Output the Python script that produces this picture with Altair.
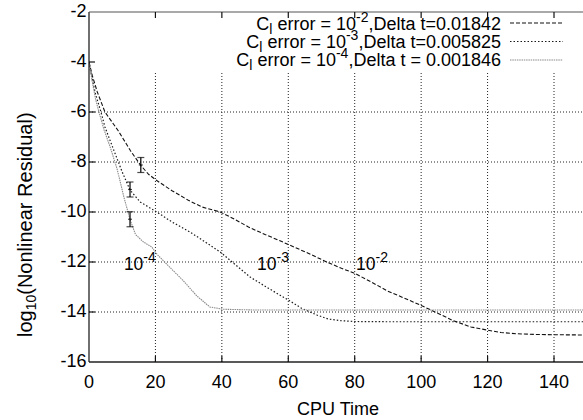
import altair as alt
import pandas as pd

# ---------------- data ----------------
s1_x = [0, 1, 2.5, 4.8, 8.8, 12.5, 15.6, 18, 20.4, 25, 29.9, 34, 39.5, 44, 48, 53, 57.5, 60, 66, 71.6, 76, 80.1,
        85, 89.7, 95, 100.2, 105, 109.7, 115, 119.8, 124, 128.8, 135, 140, 150]
s1_y = [-4.0, -4.55, -5.2, -6.0, -6.75, -7.55, -8.14, -8.5, -8.74, -9.15, -9.53, -9.8, -10.0, -10.3, -10.6, -10.9,
        -11.15, -11.3, -11.65, -12.0, -12.25, -12.46, -12.8, -13.15, -13.45, -13.75, -14.05, -14.35, -14.6,
        -14.72, -14.82, -14.87, -14.9, -14.91, -14.92]

s2_x = [0, 1, 2, 3.6, 4.8, 7.5, 10, 12.35, 15.4, 20.4, 25, 30.4, 35, 39.5, 44, 48.5, 54, 60, 64, 68.6, 72, 76, 80,
        90, 150]
s2_y = [-4.0, -4.7, -5.3, -6.0, -6.6, -7.54, -8.4, -9.12, -9.6, -10.0, -10.4, -10.8, -11.2, -11.6, -12.1, -12.6,
        -13.05, -13.52, -13.85, -14.12, -14.28, -14.35, -14.38, -14.39, -14.39]

s3_x = [0, 1, 2, 3, 4.5, 6.5, 8.5, 10.5, 12.35, 14, 16.4, 18.9, 20.4, 24.4, 28.4, 32.4, 36.4, 40.4, 50, 150]
s3_y = [-4.0, -4.8, -5.5, -6.0, -6.7, -7.45, -8.3, -9.4, -10.3, -10.9, -11.2, -11.4, -11.68, -12.22, -12.75,
        -13.35, -13.8, -13.89, -13.92, -13.92]

err_x = [15.6, 12.35, 12.35]
err_lo = [-8.42, -9.40, -10.59]
err_hi = [-7.82, -8.80, -9.99]
err_mid = [-8.12, -9.10, -10.29]

x_ticks = [0, 20, 40, 60, 80, 100, 120, 140]
y_ticks = [-2, -4, -6, -8, -10, -12, -14, -16]
grid_y = [-6, -8, -10, -12, -14]
grid_x = [20, 40, 60, 80, 100, 120, 140]
x_title = "CPU Time"

legend_texts = [
    [("C", "n"), ("l", "sub"), (" error = 10", "n"), ("-2", "sup"), (",Delta t=0.01842", "n")],
    [("C", "n"), ("l", "sub"), (" error = 10", "n"), ("-3", "sup"), (",Delta t=0.005825", "n")],
    [("C", "n"), ("l", "sub"), (" error = 10", "n"), ("-4", "sup"), (",Delta t = 0.001846", "n")],
]
curve_labels = ["-4", "-3", "-2"]
curve_label_x = [10.5, 50.6, 80.4]
curve_label_y = [-12.32, -12.32, -12.32]

# ---------------- layout ----------------
FONT = "Liberation Sans"
W, H = 494, 350
XMIN, XMAX = 0, 148.73
YMIN, YMAX = -16, -2
UX = (XMAX - XMIN) / W      # data units per pixel
UY = (YMAX - YMIN) / H
FL, SL = 18, 14        # legend
FC, SC = 17.5, 14      # curve labels
FT = 18                # tick labels / x title

AW = {' ': 278, ',': 278, '-': 333, '.': 278, '=': 584, 'C': 722, 'D': 722, 'a': 556, 'e': 556, 'l': 222,
      'o': 556, 'r': 333, 't': 278, '(': 333, ')': 333, 'N': 722, 'i': 222, 'n': 556, 'R': 722, 's': 500,
      'd': 556, 'u': 556, 'g': 556}
for d in "0123456789":
    AW[d] = 556


def tw(s, size):
    return sum(AW.get(c, 556) for c in s) / 1000.0 * size


xs = alt.Scale(domain=[XMIN, XMAX], nice=False, zero=False)
ys = alt.Scale(domain=[YMIN, YMAX], nice=False, zero=False)


def XN(f):
    return alt.X(f, type="quantitative", scale=xs, axis=None)


def YN(f):
    return alt.Y(f, type="quantitative", scale=ys, axis=None)


def segments(pairs):
    """pairs: list of ((x0, y0), (x1, y1)) -> long table with a group id per segment"""
    rows = []
    for i, (a, b) in enumerate(pairs):
        rows.append({"x": a[0], "y": a[1], "g": i})
        rows.append({"x": b[0], "y": b[1], "g": i})
    return pd.DataFrame(rows)


def seg_layer(pairs, **style):
    return (alt.Chart(segments(pairs)).mark_line(**style)
            .encode(x=XN("x"), y=YN("y"), detail="g:N"))


one = pd.DataFrame({"a": [0]})
layers = []

# grid (dotted); vertical lines stop below the key, as in the reference
GRID = dict(color="#222222", strokeDash=[1, 2], strokeWidth=1)
ytop = YMAX - 61 * UY
layers.append(seg_layer([((gxv, ytop), (gxv, YMIN)) for gxv in grid_x], **GRID))
layers.append(seg_layer([((XMIN, gyv), (XMAX, gyv)) for gyv in grid_y], **GRID))

# curves
styles = [
    (s1_x, s1_y, "#111111", [4, 2], 1.1),
    (s2_x, s2_y, "#1a1a1a", [1.5, 2], 1.2),
    (s3_x, s3_y, "#8a8a8a", [1.5, 0.8], 1.1),
]
for sx, sy, col, dash, sw in styles:
    df = pd.DataFrame({"x": sx, "y": sy})
    layers.append(alt.Chart(df).mark_line(clip=True, color=col, strokeDash=dash, strokeWidth=sw)
                  .encode(x=XN("x"), y=YN("y")))

# error bars
edf = pd.DataFrame({"x": err_x, "lo": err_lo, "hi": err_hi, "mid": err_mid})
layers.append(alt.Chart(edf).mark_rule(color="black", strokeWidth=1.2).encode(x=XN("x"), y=YN("lo"), y2="hi"))
for f, sz in (("lo", 7), ("hi", 7), ("mid", 4)):
    layers.append(alt.Chart(edf).mark_tick(orient="horizontal", size=sz, thickness=1.2, color="black")
                  .encode(x=XN("x"), y=YN(f)))

# border (left, bottom, top) + inward ticks
BORDER = dict(color="#222222", strokeWidth=1.3)
layers.append(alt.Chart(one).mark_rule(**BORDER).encode(x=alt.value(0), y=alt.value(0), y2=alt.value(H)))
layers.append(alt.Chart(one).mark_rule(**BORDER).encode(y=alt.value(H), x=alt.value(0), x2=alt.value(W)))
layers.append(seg_layer([((XMIN, YMAX), (XMAX, YMAX))], color="#555555", strokeWidth=1.1))
TICK = dict(color="#111111", strokeWidth=1.2)
tick_pairs = []
for xv in x_ticks[1:]:
    tick_pairs.append(((xv, YMIN), (xv, YMIN + 6 * UY)))
    tick_pairs.append(((xv, YMAX), (xv, YMAX - 6 * UY)))
for yv in y_ticks[1:-1]:
    tick_pairs.append(((XMIN, yv), (XMIN + 6 * UX, yv)))
layers.append(seg_layer(tick_pairs, **TICK))

# tick labels, drawn through the scales
xl = pd.DataFrame({"x": x_ticks, "t": [str(v) for v in x_ticks]})
yl = pd.DataFrame({"y": y_ticks, "t": [str(v) for v in y_ticks]})
layers.append(alt.Chart(xl).mark_text(font=FONT, fontSize=FT, align="center", baseline="alphabetic",
                                      color="black").encode(x=XN("x"), y=alt.value(H + 25.5), text="t:N"))
layers.append(alt.Chart(yl).mark_text(font=FONT, fontSize=FT, align="right", baseline="middle",
                                      color="black").encode(y=YN("y"), x=alt.value(-2.5), text="t:N"))
layers.append(alt.Chart(one).mark_text(text=x_title, font=FONT, fontSize=FT, align="center",
                                       baseline="alphabetic", color="black")
              .encode(x=alt.value(W / 2 + 2), y=alt.value(H + 53)))


def piece_chart(text, size, px, py, angle=None):
    kw = dict(text=text, font=FONT, fontSize=size, align="left", baseline="alphabetic", color="black")
    if angle is not None:
        kw["angle"] = angle
    return alt.Chart(one).mark_text(**kw).encode(x=alt.value(px), y=alt.value(py))


def lead(t):
    return t[:len(t) - len(t.lstrip())]


# legend
leg_right = 412
leg_base = [17.5, 35.5, 54]
leg_line_y = [11, 29.5, 48]
leg_styles = [("#111111", [4, 2]), ("#1a1a1a", [1.5, 2]), ("#8a8a8a", [1.5, 0.8])]
for row, base, ly, (col, dash) in zip(legend_texts, leg_base, leg_line_y, leg_styles):
    sizes = [(t, FL if k == "n" else SL, k) for t, k in row]
    total = sum(tw(t, s) for t, s, k in sizes)
    x = leg_right - total
    for t, s, k in sizes:
        dy = 0 if k == "n" else (4 if k == "sub" else -8)
        layers.append(piece_chart(t.lstrip(), s, x + tw(lead(t), s), base + dy))
        x += tw(t, s)
    layers.append(alt.Chart(one).mark_rule(color=col, strokeDash=dash, strokeWidth=1.1)
                  .encode(x=alt.value(421), x2=alt.value(474), y=alt.value(ly)))

# curve labels (anchored in data coordinates)
ldf = pd.DataFrame({"x": curve_label_x, "y": curve_label_y, "sup": curve_labels})
layers.append(alt.Chart(ldf).mark_text(text="10", font=FONT, fontSize=FC, align="left", baseline="alphabetic",
                                       color="black").encode(x=XN("x"), y=YN("y")))
layers.append(alt.Chart(ldf).mark_text(font=FONT, fontSize=SC, align="left", baseline="alphabetic",
                                       color="black", dx=tw("10", FC), dy=-8)
              .encode(x=XN("x"), y=YN("y"), text="sup:N"))

# y title, rotated pieces
FY = 20
ty_pieces = [("log", FY, 0), ("10", 14, 4), ("(Nonlinear Residual)", FY, 0)]
yy = 325
for t, s, shift in ty_pieces:
    layers.append(piece_chart(t, s, -57 + shift, yy, angle=270))
    yy -= tw(t, s)

chart = alt.layer(*layers).properties(
    width=W, height=H,
    padding={"left": 89, "top": 12, "right": 0, "bottom": 58},
    autosize=alt.AutoSizeParams(type="none"),
).configure(background="white", view=alt.ViewConfig(stroke=None))

chart.save("out.html", embed_options={"renderer": "svg", "actions": False})
